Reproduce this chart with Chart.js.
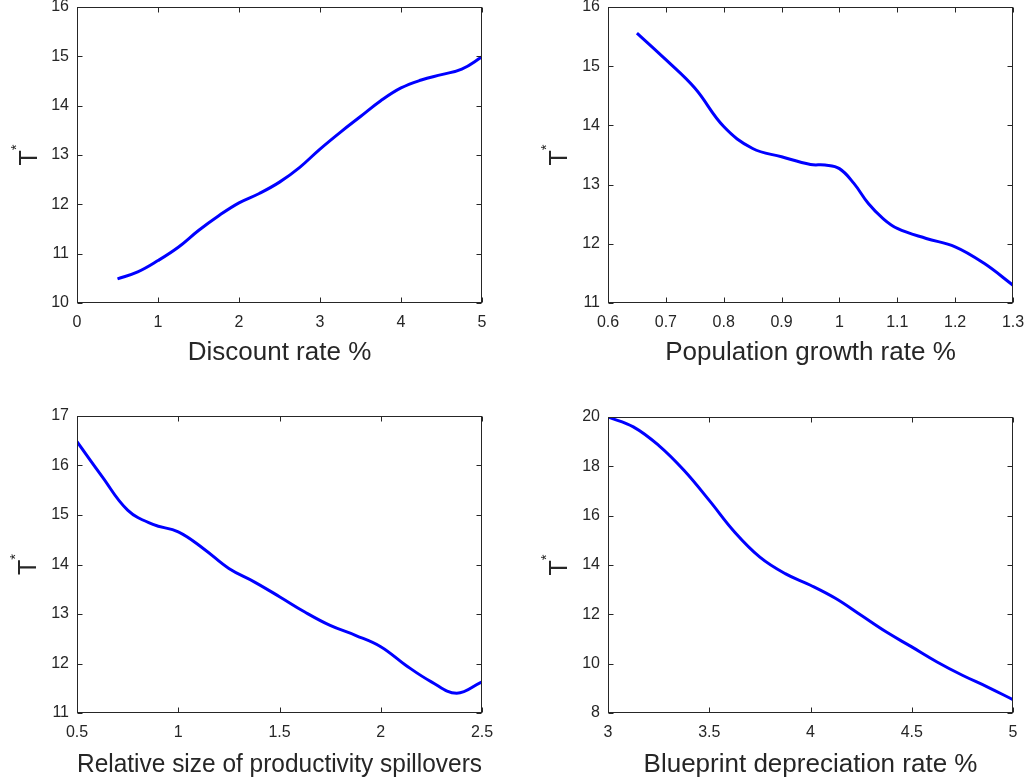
<!DOCTYPE html>
<html><head><meta charset="utf-8">
<script src="https://cdn.jsdelivr.net/npm/chart.js@4/dist/chart.umd.min.js"></script>
<style>
html,body{margin:0;padding:0;background:#fff;width:1027px;height:782px;overflow:hidden}
canvas{position:absolute;display:block}
</style></head><body>
<canvas id="c1" width="500" height="380" style="left:0;top:0"></canvas>
<canvas id="c2" width="497" height="380" style="left:530px;top:0"></canvas>
<canvas id="c3" width="500" height="402" style="left:0;top:380px"></canvas>
<canvas id="c4" width="497" height="402" style="left:530px;top:380px"></canvas>
<script>
// ---- data ----
const discountRate = [0.5,0.75,1,1.25,1.5,1.75,2,2.25,2.5,2.75,3,3.25,3.5,3.75,4,4.25,4.5,4.75,5];
const tDiscount    = [10.49,10.63,10.86,11.13,11.47,11.77,12.03,12.22,12.45,12.75,13.12,13.46,13.78,14.10,14.36,14.52,14.63,14.74,14.99];

const popGrowth = [0.65,0.7,0.75,0.8,0.85,0.9,0.95,0.975,1.0,1.025,1.05,1.075,1.1,1.15,1.2,1.25,1.3];
const tPop      = [15.56,15.11,14.63,13.98,13.61,13.47,13.34,13.33,13.27,13.02,12.68,12.43,12.26,12.09,11.95,11.67,11.30];

const spillover = [0.5,0.625,0.75,0.875,1,1.125,1.25,1.375,1.5,1.625,1.75,1.875,2,2.125,2.25,2.375,2.5];
const tSpill    = [16.48,15.77,15.10,14.81,14.66,14.32,13.92,13.65,13.35,13.04,12.77,12.57,12.34,11.96,11.63,11.40,11.63];

const blueprint = [3,3.125,3.25,3.375,3.5,3.625,3.75,3.875,4,4.125,4.25,4.375,4.5,4.625,4.75,4.875,5];
const tBlue     = [20.0,19.6,18.85,17.84,16.62,15.34,14.32,13.65,13.18,12.64,11.96,11.28,10.68,10.07,9.53,9.05,8.54];

const ticksX1 = [0,1,2,3,4,5];           const ticksY1 = [10,11,12,13,14,15,16];
const ticksX2 = [0.6,0.7,0.8,0.9,1,1.1,1.2,1.3]; const ticksY2 = [11,12,13,14,15,16];
const ticksX3 = [0.5,1,1.5,2,2.5];       const ticksY3 = [11,12,13,14,15,16,17];
const ticksX4 = [3,3.5,4,4.5,5];         const ticksY4 = [8,10,12,14,16,18,20];

const xTitles = ['Discount rate %','Population growth rate %','Relative size of productivity spillovers','Blueprint depreciation rate %'];
const yTitle = 'T', ySup = '*';

// ---- styling ----
const FONT = '"Liberation Sans", Arial, Helvetica, sans-serif';
const AX = '#262626';

const framePlugin = {
  id: 'frame',
  afterDatasetsDraw(chart, args, opts) {
    const {ctx, chartArea: a, scales: {x, y}} = chart;
    ctx.save();
    ctx.strokeStyle = AX; ctx.lineWidth = 1;
    const L = Math.round(a.left) + 0.5, R = Math.round(a.right) - 0.5;
    const T = Math.round(a.top) + 0.5, B = Math.round(a.bottom) - 0.5;
    ctx.strokeRect(L, T, R - L, B - T);
    ctx.beginPath();
    x.ticks.forEach(t => {
      const px = Math.round(x.getPixelForValue(t.value)) + 0.5;
      ctx.moveTo(px, B); ctx.lineTo(px, B - 5);
      ctx.moveTo(px, T); ctx.lineTo(px, T + 5);
    });
    y.ticks.forEach(t => {
      const py = Math.round(y.getPixelForValue(t.value)) + 0.5;
      ctx.moveTo(L, py); ctx.lineTo(L + 5, py);
      ctx.moveTo(R, py); ctx.lineTo(R - 5, py);
    });
    ctx.stroke();
    // y title "T*" rotated
    const cy = (a.top + a.bottom) / 2;
    ctx.translate(opts.titleX, cy);
    ctx.rotate(-Math.PI / 2);
    ctx.fillStyle = AX;
    ctx.textBaseline = 'middle'; ctx.textAlign = 'left';
    const big = '25px ' + FONT, small = '15px ' + FONT;
    ctx.font = big; const w1 = ctx.measureText(yTitle).width;
    ctx.font = small; const w2 = ctx.measureText(ySup).width;
    const start = -(w1 + w2) / 2;
    ctx.font = big; ctx.fillText(yTitle, start, 0);
    ctx.font = small; ctx.fillText(ySup, start + w1, -13);
    ctx.restore();
  }
};

function makeChart(id, xs, ys, xTicks, yTicks, xTitle, cfg) {
  const pts = xs.map((v, i) => ({x: v, y: ys[i]}));
  return new Chart(document.getElementById(id), {
    type: 'line',
    data: { datasets: [{ data: pts, borderColor: 'rgb(0,0,255)', borderWidth: 3,
      pointRadius: 0, fill: false, tension: 0.4 }] },
    options: {
      responsive: false, animation: false, devicePixelRatio: 1,
      layout: { padding: { top: cfg.top, right: cfg.right, left: 0, bottom: 0 } },
      plugins: { legend: { display: false }, tooltip: { enabled: false },
                 frame: { titleX: cfg.titleX } },
      scales: {
        x: {
          type: 'linear', min: xTicks[0], max: xTicks[xTicks.length - 1],
          grid: { display: false, drawTicks: false }, border: { display: false },
          afterBuildTicks: s => { s.ticks = xTicks.map(v => ({value: v})); },
          ticks: { color: AX, font: { family: FONT, size: 16 }, padding: 10,
                   maxRotation: 0, autoSkip: false,
                   callback: v => String(parseFloat(Number(v).toFixed(3))) },
          title: { display: true, text: xTitle, color: AX,
                   font: { family: FONT, size: 26 }, padding: { top: 0, bottom: cfg.titlePad } },
          afterFit: s => { s.height = cfg.xh; s.paddingLeft = 0; s.paddingRight = 0; }
        },
        y: {
          type: 'linear', min: yTicks[0], max: yTicks[yTicks.length - 1],
          grid: { display: false, drawTicks: false }, border: { display: false },
          afterBuildTicks: s => { s.ticks = yTicks.map(v => ({value: v})); },
          ticks: { color: AX, font: { family: FONT, size: 16 }, padding: 8, autoSkip: false,
                   callback: v => String(v) },
          afterFit: s => { s.width = cfg.yw; s.paddingTop = 0; s.paddingBottom = 0; }
        }
      }
    },
    plugins: [framePlugin]
  });
}

makeChart('c1', discountRate, tDiscount, ticksX1, ticksY1, xTitles[0],
  { top: 7, right: 18, xh: 77, yw: 77, titlePad: 12, titleX: 30 });
makeChart('c2', popGrowth, tPop, ticksX2, ticksY2, xTitles[1],
  { top: 7, right: 14, xh: 77, yw: 78, titlePad: 12, titleX: 30 });
makeChart('c3', spillover, tSpill, ticksX3, ticksY3, xTitles[2],
  { top: 36, right: 18, xh: 69, yw: 77, titlePad: 2, titleX: 29 });
makeChart('c4', blueprint, tBlue, ticksX4, ticksY4, xTitles[3],
  { top: 37, right: 14, xh: 69, yw: 78, titlePad: 2, titleX: 30 });
</script>
</body></html>
